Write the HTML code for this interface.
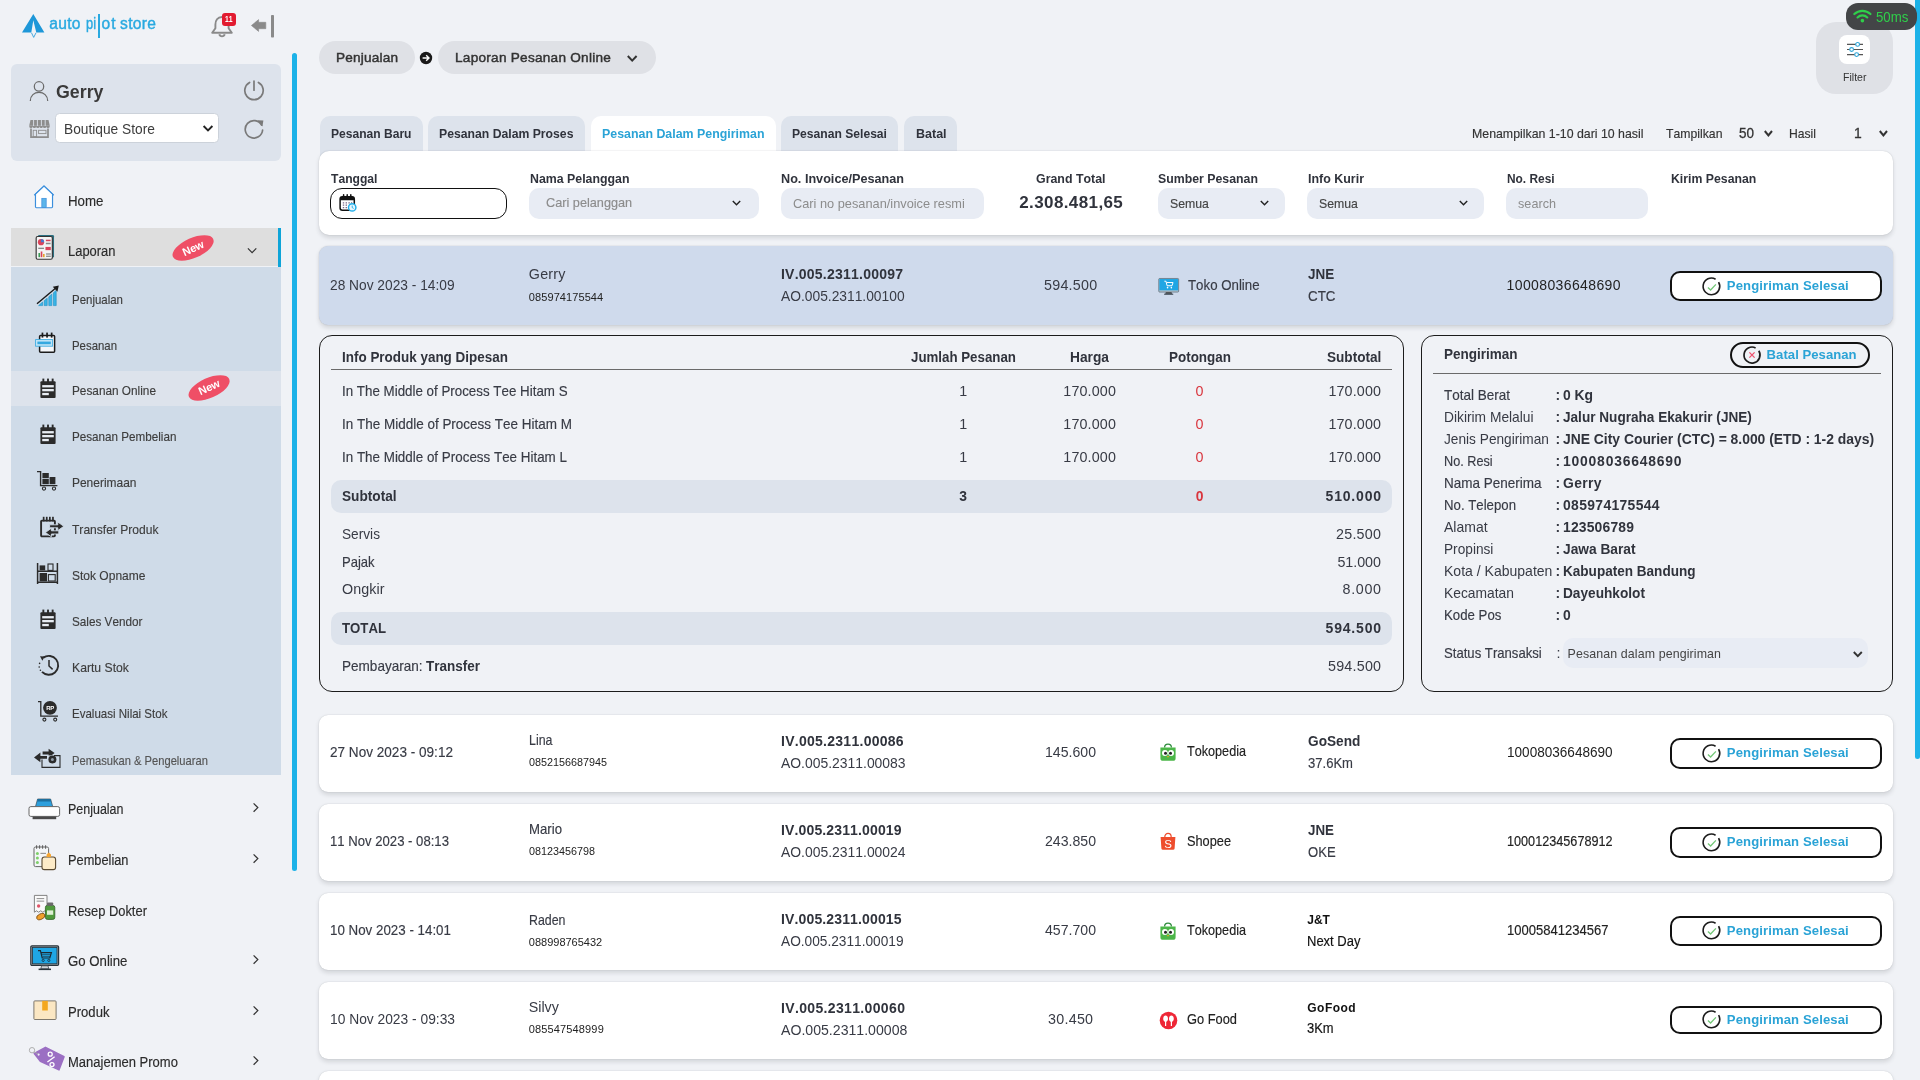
<!DOCTYPE html>
<html><head><meta charset="utf-8"><title>Laporan Pesanan Online</title>
<style>
html,body{margin:0;padding:0;}
html{width:1920px;height:1080px;overflow:hidden;background:#f0f2f6;}
body{width:1920px;height:1080px;overflow:hidden;position:relative;background:#f0f2f6;font-family:"Liberation Sans",sans-serif;font-kerning:none;font-variant-ligatures:none;}
.b{position:absolute;box-sizing:border-box;}
.t{position:absolute;white-space:nowrap;font-kerning:none;transform-origin:0 50%;}
svg{overflow:visible;}
#root{position:absolute;left:0;top:0;width:1920px;height:1080px;overflow:hidden;will-change:transform;}
</style></head><body><div id="root">
<div class="b" style="left:292.1px;top:52.5px;width:4.8px;height:818.2px;background:#1cb2e8;border-radius:3px;"></div>
<svg class="b" style="left:20px;top:12px;" width="28" height="28" viewBox="0 0 28 28"><path d="M13.3 2 L24.4 20.6 L16.3 20.6 L13.3 8.2 L11.3 20.6 L2 20.6 Z" fill="#1e97d8"/><path d="M11.5 20.8 L13.7 25.4 L16 20.8" fill="none" stroke="#1e97d8" stroke-width="0.8"/></svg>
<span class="t" style="left:49.2px;top:15px;font-size:15.6px;line-height:17px;color:#29a9e0;letter-spacing:0.31px;-webkit-text-stroke:0.42px #29a9e0;">auto</span>
<span class="t" style="left:85.6px;top:15px;font-size:15.6px;line-height:17px;color:#29a9e0;transform:scaleX(0.8236);-webkit-text-stroke:0.42px #29a9e0;">pi</span>
<div class="b" style="left:98px;top:14px;width:1.8px;height:23.5px;background:#29a9e0;"></div>
<span class="t" style="left:101.5px;top:15px;font-size:15.6px;line-height:17px;color:#29a9e0;letter-spacing:0.99px;-webkit-text-stroke:0.42px #29a9e0;">ot</span>
<span class="t" style="left:120px;top:15px;font-size:15.6px;line-height:17px;color:#29a9e0;letter-spacing:0.33px;-webkit-text-stroke:0.42px #29a9e0;">store</span>
<svg class="b" style="left:208px;top:12px;" width="30" height="28" viewBox="0 0 30 28"><path d="M14 5 c-4.6 0 -6.6 3.6 -6.6 7.6 v3.6 l-3.2 4.6 h19.6 l-3.2 -4.6 v-3.6 c0 -4 -2 -7.6 -6.6 -7.6z" fill="none" stroke="#8a8a8a" stroke-width="1.9" stroke-linejoin="round"/><path d="M11.3 22.3 a2.8 2.8 0 0 0 5.4 0" fill="none" stroke="#8a8a8a" stroke-width="1.9"/></svg>
<div class="b" style="left:222px;top:13px;width:14.2px;height:12.8px;background:#e21b30;border-radius:3px;"></div>
<span class="t" style="left:225.3px;top:14px;font-size:8.5px;line-height:10px;color:#fff;font-weight:700;transform:scaleX(0.8038);">11</span>
<svg class="b" style="left:250px;top:14px;" width="26" height="25" viewBox="0 0 26 25"><path d="M1.4 11.5 L8.6 5.6 L8.6 8.3 L15.8 8.3 L15.8 14.7 L8.6 14.7 L8.6 17.4 Z" fill="#8a8a8a" stroke="#8a8a8a" stroke-width="0.6" stroke-linejoin="round"/><rect x="21" y="1" width="3" height="22.6" rx="0.8" fill="#8a8a8a"/></svg>
<div class="b" style="left:11px;top:64px;width:270px;height:96.5px;background:#dde3ec;border-radius:6px;"></div>
<svg class="b" style="left:28px;top:78px;" width="24" height="26" viewBox="0 0 24 26"><circle cx="11" cy="8.4" r="4.7" fill="none" stroke="#6b6b6b" stroke-width="1.25"/><path d="M2.3 23 c0 -5.6 4 -8.6 8.7 -8.6 s8.7 3 8.7 8.6" fill="none" stroke="#6b6b6b" stroke-width="1.25"/></svg>
<span class="t" style="left:55.5px;top:81px;font-size:18.3px;line-height:21px;color:#3a3a3a;font-weight:700;transform:scaleX(0.9727);">Gerry</span>
<svg class="b" style="left:242px;top:77.4px;" width="24" height="24" viewBox="0 0 24 24"><path d="M7.6 5.4 a9.2 9.2 0 1 0 8.8 0" fill="none" stroke="#7a7a7a" stroke-width="1.7" stroke-linecap="round"/><path d="M12 4 V13.2" stroke="#7a7a7a" stroke-width="1.7" stroke-linecap="round"/></svg>
<svg class="b" style="left:29px;top:119px;" width="22" height="20" viewBox="0 0 22 20"><path d="M1.5 1 h18 l1.2 5.2 h-20.4z" fill="#8d8d8d"/><path d="M0.3 6.2 h20.4 v1.2 a1.7 1.7 0 0 1 -3.4 0 a1.7 1.7 0 0 1 -3.4 0 a1.7 1.7 0 0 1 -3.4 0 a1.7 1.7 0 0 1 -3.4 0 a1.7 1.7 0 0 1 -3.4 0 a1.7 1.7 0 0 1 -3.4 0z" fill="#8d8d8d"/><path d="M4.6 1 v6 M8.4 1 v6 M12.4 1 v6 M16.2 1 v6" stroke="#dde3ec" stroke-width="0.9"/><path d="M2 9.5 v8.6 h17 v-8.6" fill="none" stroke="#8d8d8d" stroke-width="1.7"/><rect x="4.2" y="11.3" width="3.4" height="6.4" fill="none" stroke="#8d8d8d" stroke-width="0.9"/><rect x="9.6" y="11.3" width="7.4" height="3.3" fill="none" stroke="#8d8d8d" stroke-width="0.9"/></svg>
<div class="b" style="left:55.3px;top:113px;width:163.6px;height:30.3px;background:#fff;border-radius:4.5px;border:1px solid #ccd2da;"></div>
<span class="t" style="left:63.8px;top:121px;font-size:14.2px;line-height:16px;color:#3c3c3c;transform:scaleX(0.9686);">Boutique Store</span>
<svg class="b" style="left:202px;top:124px;" width="12" height="9" viewBox="0 0 12 9"><path d="M1.6 2 L6 6.4 L10.4 2" fill="none" stroke="#222" stroke-width="1.9"/></svg>
<svg class="b" style="left:242px;top:117px;" width="24" height="24" viewBox="0 0 24 24"><path d="M19.6 8.2 A8.7 8.7 0 1 0 20.6 13" fill="none" stroke="#7a7a7a" stroke-width="1.7" stroke-linecap="round"/><path d="M15.6 3.2 L21.4 3.6 L20.4 9.4 Z" fill="#7a7a7a"/></svg>
<svg class="b" style="left:32px;top:184.4px;" width="24" height="25.4" viewBox="0 0 26 28"><path d="M2.2 12.4 L13 2 L23.8 12.4" fill="none" stroke="#3b8fdd" stroke-width="1.3" stroke-linejoin="round"/><path d="M3.6 11.2 V25.2 a1 1 0 0 0 1 1 H21.4 a1 1 0 0 0 1 -1 V11.2 L13 2.4Z" fill="#fff" stroke="#3b8fdd" stroke-width="1.3" stroke-linejoin="round"/><rect x="10.6" y="15.8" width="4.8" height="10" fill="#5bb5ea" stroke="#3b8fdd" stroke-width="0.8"/></svg>
<span class="t" style="left:68px;top:193px;font-size:14.7px;line-height:16px;color:#2b2b2b;transform:scaleX(0.9053);-webkit-text-stroke:0.16px #2b2b2b;">Home</span>
<div class="b" style="left:11px;top:228.3px;width:270px;height:38.2px;background:#dedede;"></div>
<div class="b" style="left:278px;top:228.3px;width:2.9px;height:38.4px;background:#0ea4d8;"></div>
<svg class="b" style="left:34.4px;top:233.8px;" width="22" height="26.6" viewBox="0 0 23 28"><rect x="4" y="1" width="17" height="24" rx="1.5" fill="#2c6f80"/><rect x="2.2" y="2.6" width="17" height="24" rx="1.5" fill="#f4f4f4" stroke="#333" stroke-width="1.2"/><circle cx="7.3" cy="8.6" r="3.3" fill="#d9445a"/><path d="M7.3 8.6 V5.3 A3.3 3.3 0 0 1 10.6 8.6Z" fill="#4a78c9"/><rect x="12.4" y="6" width="5" height="1.6" fill="#d9445a"/><rect x="12.4" y="9.2" width="5" height="1.6" fill="#888"/><rect x="4.4" y="14.4" width="6" height="1.4" fill="#888"/><rect x="12" y="13.6" width="5.6" height="3.4" fill="#d9445a"/><rect x="4.6" y="20" width="1.7" height="4.4" fill="#3a9a56"/><rect x="7" y="18.4" width="1.7" height="6" fill="#d9445a"/><rect x="9.4" y="21" width="1.7" height="3.4" fill="#e6a52c"/><rect x="12.6" y="20.4" width="5" height="1.3" fill="#888"/><rect x="12.6" y="22.8" width="5" height="1.3" fill="#888"/></svg>
<span class="t" style="left:68px;top:243px;font-size:14.7px;line-height:16px;color:#2b2b2b;transform:scaleX(0.8804);-webkit-text-stroke:0.16px #2b2b2b;">Laporan</span>
<div class="b" style="left:170.5px;top:238.2px;width:44px;height:19.6px;border-radius:50%;background:#ef4f66;transform:rotate(-24deg);"></div>
<span class="t" style="left:181.5px;top:241.8px;font-size:11px;line-height:12px;color:#fff;font-weight:700;transform-origin:50% 50%;transform:rotate(-24deg);letter-spacing:-0.2px;">New</span>
<svg class="b" style="left:247px;top:247px;" width="11" height="8" viewBox="0 0 11 8"><path d="M0.9 1.3 L5.1 5.6 L9.3 1.3" fill="none" stroke="#333" stroke-width="1.2"/></svg>
<div class="b" style="left:11px;top:266.5px;width:270px;height:508px;background:#cfdbe8;"></div>
<div class="b" style="left:11px;top:371px;width:270px;height:35.2px;background:#dde3ec;"></div>
<span class="t" style="left:72px;top:292px;font-size:13.4px;line-height:15px;color:#3d3d3d;transform:scaleX(0.8556);-webkit-text-stroke:0.16px #3d3d3d;">Penjualan</span>
<span class="t" style="left:72px;top:338px;font-size:13.4px;line-height:15px;color:#3d3d3d;transform:scaleX(0.8506);-webkit-text-stroke:0.16px #3d3d3d;">Pesanan</span>
<span class="t" style="left:72px;top:383px;font-size:13.4px;line-height:15px;color:#3d3d3d;transform:scaleX(0.8809);-webkit-text-stroke:0.16px #3d3d3d;">Pesanan Online</span>
<span class="t" style="left:72px;top:429px;font-size:13.4px;line-height:15px;color:#3d3d3d;transform:scaleX(0.8712);-webkit-text-stroke:0.16px #3d3d3d;">Pesanan Pembelian</span>
<span class="t" style="left:72px;top:475px;font-size:13.4px;line-height:15px;color:#3d3d3d;transform:scaleX(0.8926);-webkit-text-stroke:0.16px #3d3d3d;">Penerimaan</span>
<span class="t" style="left:72px;top:522px;font-size:13.4px;line-height:15px;color:#3d3d3d;transform:scaleX(0.9003);-webkit-text-stroke:0.16px #3d3d3d;">Transfer Produk</span>
<span class="t" style="left:72px;top:568px;font-size:13.4px;line-height:15px;color:#3d3d3d;transform:scaleX(0.8971);-webkit-text-stroke:0.16px #3d3d3d;">Stok Opname</span>
<span class="t" style="left:72px;top:614px;font-size:13.4px;line-height:15px;color:#3d3d3d;transform:scaleX(0.8763);-webkit-text-stroke:0.16px #3d3d3d;">Sales Vendor</span>
<span class="t" style="left:72px;top:660px;font-size:13.4px;line-height:15px;color:#3d3d3d;transform:scaleX(0.9110);-webkit-text-stroke:0.16px #3d3d3d;">Kartu Stok</span>
<span class="t" style="left:72px;top:706px;font-size:13.4px;line-height:15px;color:#3d3d3d;transform:scaleX(0.8606);-webkit-text-stroke:0.16px #3d3d3d;">Evaluasi Nilai Stok</span>
<span class="t" style="left:72px;top:753px;font-size:13.4px;line-height:15px;color:#555;transform:scaleX(0.8336);-webkit-text-stroke:0.16px #555;">Pemasukan &amp; Pengeluaran</span>
<div class="b" style="left:186.5px;top:377.8px;width:44px;height:19.6px;border-radius:50%;background:#ef4f66;transform:rotate(-24deg);"></div>
<span class="t" style="left:197.5px;top:381.4px;font-size:11px;line-height:12px;color:#fff;font-weight:700;transform-origin:50% 50%;transform:rotate(-24deg);letter-spacing:-0.2px;">New</span>
<svg class="b" style="left:36px;top:285px;" width="24" height="22" viewBox="0 0 24 22"><path d="M2.6 20.6 L6.6 17 V20.6Z" fill="#38b4e6" stroke="#1d8ec4" stroke-width="0.6"/><path d="M8.2 20.6 V15.8 L11.2 13.2 V20.6Z" fill="#38b4e6" stroke="#1d8ec4" stroke-width="0.6"/><path d="M12.8 20.6 V11.8 L15.8 9.2 V20.6Z" fill="#38b4e6" stroke="#1d8ec4" stroke-width="0.6"/><path d="M17.4 20.6 V7.8 L20.2 5.4 V20.6Z" fill="#38b4e6" stroke="#1d8ec4" stroke-width="0.6"/><path d="M1 18.8 L19.8 3" stroke="#1b1b1b" stroke-width="1.4"/><path d="M22.8 0.6 L16.8 1.8 L21.4 6.8Z" fill="#1b1b1b"/></svg>
<svg class="b" style="left:35px;top:332px;" width="22" height="22" viewBox="0 0 22 22"><rect x="4.6" y="3.6" width="15" height="16.6" rx="1" fill="#f5f7fa" stroke="#1b1b1b" stroke-width="1.5"/><rect x="6.6" y="0.6" width="1.7" height="5" fill="#1b1b1b"/><rect x="11.2" y="0.6" width="1.7" height="5" fill="#1b1b1b"/><rect x="15.8" y="0.6" width="1.7" height="5" fill="#1b1b1b"/><rect x="0.6" y="7.6" width="17" height="6.6" fill="#bfe4f7" stroke="#35a9e0" stroke-width="0.8"/><rect x="2.4" y="9.6" width="13.4" height="2.6" fill="#35a9e0"/></svg>
<svg class="b" style="left:40px;top:378px;" width="16" height="20.4" viewBox="0 0 16 20"><rect x="0.4" y="3" width="15.2" height="16.7" rx="1" fill="#2b2b2b"/><rect x="2.4" y="0.4" width="1.9" height="4.6" fill="#2b2b2b"/><rect x="7.05" y="0.4" width="1.9" height="4.6" fill="#2b2b2b"/><rect x="11.7" y="0.4" width="1.9" height="4.6" fill="#2b2b2b"/><rect x="2.2" y="6.9" width="11.6" height="2.3" fill="#e8edf3"/><rect x="2.2" y="10.8" width="11.6" height="2.3" fill="#e8edf3"/><rect x="2.2" y="14.7" width="6.6" height="2.3" fill="#e8edf3"/></svg>
<svg class="b" style="left:40px;top:424px;" width="16" height="20.4" viewBox="0 0 16 20"><rect x="0.4" y="3" width="15.2" height="16.7" rx="1" fill="#2b2b2b"/><rect x="2.4" y="0.4" width="1.9" height="4.6" fill="#2b2b2b"/><rect x="7.05" y="0.4" width="1.9" height="4.6" fill="#2b2b2b"/><rect x="11.7" y="0.4" width="1.9" height="4.6" fill="#2b2b2b"/><rect x="2.2" y="6.9" width="11.6" height="2.3" fill="#e8edf3"/><rect x="2.2" y="10.8" width="11.6" height="2.3" fill="#e8edf3"/><rect x="2.2" y="14.7" width="6.6" height="2.3" fill="#e8edf3"/></svg>
<svg class="b" style="left:35.8px;top:470px;" width="24" height="22" viewBox="0 0 24 22"><path d="M1 1.6 H4.6 V15.6 H21.4" fill="none" stroke="#2b2b2b" stroke-width="1.4"/><rect x="6.4" y="3" width="6.4" height="5.2" fill="#2b2b2b"/><rect x="6.4" y="9" width="6.4" height="5.2" fill="#2b2b2b"/><rect x="13.6" y="7" width="5.8" height="7.2" fill="#2b2b2b"/><circle cx="8" cy="18.6" r="1.6" fill="none" stroke="#2b2b2b" stroke-width="1.1"/><circle cx="18" cy="18.6" r="1.6" fill="none" stroke="#2b2b2b" stroke-width="1.1"/></svg>
<svg class="b" style="left:39px;top:516px;" width="26" height="23" viewBox="0 0 26 23"><rect x="2.1" y="4.6" width="13.8" height="15.8" rx="0.8" fill="none" stroke="#2b2b2b" stroke-width="1.9"/><rect x="3.8" y="0.8" width="1.7" height="4.6" fill="#2b2b2b"/><rect x="6.9" y="0.8" width="1.7" height="4.6" fill="#2b2b2b"/><rect x="10" y="0.8" width="1.7" height="4.6" fill="#2b2b2b"/><rect x="13.1" y="0.8" width="1.7" height="4.6" fill="#2b2b2b"/><path d="M10.6 8.8 H18.8 V6 L24.8 10.3 L18.8 14.6 V11.8 H10.6Z" fill="#2b2b2b" stroke="#cfdbe8" stroke-width="0.9"/><path d="M19.8 14.8 H12.4 V12.2 L6.4 16.5 L12.4 20.8 V18 H19.8Z" fill="#2b2b2b" stroke="#cfdbe8" stroke-width="0.9"/></svg>
<svg class="b" style="left:36px;top:562px;" width="23" height="23" viewBox="0 0 23 23"><path d="M1.6 1 V22 M21.4 1 V22" stroke="#2b2b2b" stroke-width="1.5"/><path d="M1.6 9.2 H21.4 M1.6 20.2 H21.4" stroke="#2b2b2b" stroke-width="1.5"/><rect x="3.6" y="3.4" width="5.6" height="5" fill="#2b2b2b"/><rect x="12" y="2" width="5" height="6.4" fill="none" stroke="#2b2b2b" stroke-width="1.1"/><rect x="3.6" y="11" width="7.4" height="8.4" fill="#2b2b2b"/><rect x="12.4" y="12.6" width="6.8" height="6.4" fill="none" stroke="#2b2b2b" stroke-width="1.1"/></svg>
<svg class="b" style="left:40px;top:608.5px;" width="16" height="20.4" viewBox="0 0 16 20"><rect x="0.4" y="3" width="15.2" height="16.7" rx="1" fill="#2b2b2b"/><rect x="2.4" y="0.4" width="1.9" height="4.6" fill="#2b2b2b"/><rect x="7.05" y="0.4" width="1.9" height="4.6" fill="#2b2b2b"/><rect x="11.7" y="0.4" width="1.9" height="4.6" fill="#2b2b2b"/><rect x="2.2" y="6.9" width="11.6" height="2.3" fill="#e8edf3"/><rect x="2.2" y="10.8" width="11.6" height="2.3" fill="#e8edf3"/><rect x="2.2" y="14.7" width="6.6" height="2.3" fill="#e8edf3"/></svg>
<svg class="b" style="left:37px;top:654px;" width="23" height="23" viewBox="0 0 23 23"><path d="M6.4 3.6 A9.4 9.4 0 1 1 5 17.8" fill="none" stroke="#2b2b2b" stroke-width="1.9"/><path d="M12 6 V12 L15.6 15.4" fill="none" stroke="#2b2b2b" stroke-width="1.5"/><path d="M3 2.2 L7.6 2.6 L5.4 6.8Z" fill="#2b2b2b"/><circle cx="2.6" cy="9.4" r="0.8" fill="#2b2b2b"/><circle cx="2.2" cy="13" r="0.8" fill="#2b2b2b"/><circle cx="3.4" cy="16.2" r="0.8" fill="#2b2b2b"/></svg>
<svg class="b" style="left:37px;top:700px;" width="23" height="23" viewBox="0 0 23 23"><path d="M1 1.6 H3.8 V16.2 H21" fill="none" stroke="#2b2b2b" stroke-width="1.3"/><circle cx="13" cy="7.8" r="6.9" fill="#2b2b2b"/><circle cx="7.4" cy="19.6" r="1.5" fill="none" stroke="#2b2b2b" stroke-width="1.1"/><circle cx="18.2" cy="19.6" r="1.5" fill="none" stroke="#2b2b2b" stroke-width="1.1"/><text x="13" y="10" font-size="6" font-weight="700" fill="#fff" text-anchor="middle" font-family="Liberation Sans" letter-spacing="-0.3">RP</text></svg>
<svg class="b" style="left:33px;top:747px;" width="28" height="22" viewBox="0 0 28 22"><path d="M7.4 9 L7.4 5.6 L1 10.4 L7.4 15.2 L7.4 11.8 L14 11.8 L14 9Z" fill="#2b2b2b"/><path d="M9.6 4.6 H15.6 V1.8 L21.6 6 L18.6 8.2 L15.6 8.6 V7.4 H9.6Z" fill="#2b2b2b"/><path d="M9 12.6 V20.4 H27 V8.6 H21" fill="none" stroke="#2b2b2b" stroke-width="1.1"/><circle cx="19.4" cy="12.4" r="4" fill="#2b2b2b"/><circle cx="19.4" cy="12.4" r="1.5" fill="#8f9aa6"/></svg>
<span class="t" style="left:68px;top:801px;font-size:14.7px;line-height:16px;color:#2b2b2b;transform:scaleX(0.8487);-webkit-text-stroke:0.16px #2b2b2b;">Penjualan</span>
<svg class="b" style="left:251.6px;top:802.4px;" width="8" height="12" viewBox="0 0 8 12"><path d="M1.6 1.4 L5.8 5.6 L1.6 9.8" fill="none" stroke="#333" stroke-width="1.25"/></svg>
<span class="t" style="left:68px;top:852px;font-size:14.7px;line-height:16px;color:#2b2b2b;transform:scaleX(0.8710);-webkit-text-stroke:0.16px #2b2b2b;">Pembelian</span>
<svg class="b" style="left:251.6px;top:853.4px;" width="8" height="12" viewBox="0 0 8 12"><path d="M1.6 1.4 L5.8 5.6 L1.6 9.8" fill="none" stroke="#333" stroke-width="1.25"/></svg>
<span class="t" style="left:68px;top:903px;font-size:14.7px;line-height:16px;color:#2b2b2b;transform:scaleX(0.8790);-webkit-text-stroke:0.16px #2b2b2b;">Resep Dokter</span>
<span class="t" style="left:68px;top:953px;font-size:14.7px;line-height:16px;color:#2b2b2b;transform:scaleX(0.8990);-webkit-text-stroke:0.16px #2b2b2b;">Go Online</span>
<svg class="b" style="left:251.6px;top:954.4px;" width="8" height="12" viewBox="0 0 8 12"><path d="M1.6 1.4 L5.8 5.6 L1.6 9.8" fill="none" stroke="#333" stroke-width="1.25"/></svg>
<span class="t" style="left:68px;top:1004px;font-size:14.7px;line-height:16px;color:#2b2b2b;transform:scaleX(0.8910);-webkit-text-stroke:0.16px #2b2b2b;">Produk</span>
<svg class="b" style="left:251.6px;top:1005.4px;" width="8" height="12" viewBox="0 0 8 12"><path d="M1.6 1.4 L5.8 5.6 L1.6 9.8" fill="none" stroke="#333" stroke-width="1.25"/></svg>
<span class="t" style="left:68px;top:1054px;font-size:14.7px;line-height:16px;color:#2b2b2b;transform:scaleX(0.8857);-webkit-text-stroke:0.16px #2b2b2b;">Manajemen Promo</span>
<svg class="b" style="left:251.6px;top:1055.4px;" width="8" height="12" viewBox="0 0 8 12"><path d="M1.6 1.4 L5.8 5.6 L1.6 9.8" fill="none" stroke="#333" stroke-width="1.25"/></svg>
<svg class="b" style="left:28px;top:797px;" width="33" height="26" viewBox="0 0 33 26"><path d="M9.6 2 h13 l2.4 8.6 h-17.8z" fill="#2d9fdc" stroke="#3b4a55" stroke-width="0.7"/><path d="M9.8 2 h12.6 l0.7 2.4 h-14z" fill="#1d6f9e"/><rect x="1" y="9.6" width="30.6" height="9.8" rx="1.8" fill="#fdfdfd" stroke="#666" stroke-width="1"/><path d="M4.6 19.6 h23.6 v2.6 h-23.6z" fill="#4a4a4a"/></svg>
<svg class="b" style="left:32px;top:844px;" width="27" height="28" viewBox="0 0 27 28"><rect x="2" y="3" width="14.6" height="19.6" rx="1.5" fill="#f4f6f8" stroke="#666" stroke-width="1"/><path d="M4.6 1.2 v3.6 M7.6 1.2 v3.6 M10.6 1.2 v3.6 M13.6 1.2 v3.6" stroke="#555" stroke-width="0.9"/><circle cx="5.4" cy="9.4" r="1.5" fill="#7ed06a"/><circle cx="5.4" cy="14" r="1.5" fill="#7ed06a"/><circle cx="5.4" cy="18.6" r="1.5" fill="#7ed06a"/><rect x="8.4" y="8.8" width="5.6" height="1.2" fill="#999"/><rect x="10" y="13" width="13.6" height="12.6" rx="2.4" fill="#fdebc8" stroke="#5a4a32" stroke-width="1.1"/><path d="M14.6 13 v-2.6 l2.2 -2 l2.2 2 v2.6z" fill="#f7a531"/></svg>
<svg class="b" style="left:32px;top:894px;" width="26" height="28" viewBox="0 0 26 28"><path d="M2.4 1.4 h12.6 v16.8 l-2.1 -1.4 l-2.1 1.4 l-2.1 -1.4 l-2.1 1.4 l-2.1 -1.4 l-2.1 1.4z" fill="#fafafa" stroke="#777" stroke-width="0.9"/><rect x="4.6" y="4" width="7.6" height="1.1" fill="#999"/><rect x="4.6" y="6.6" width="7.6" height="1.1" fill="#999"/><circle cx="6.6" cy="12" r="1.7" fill="#e0566a"/><rect x="13.4" y="11.4" width="9.4" height="14" rx="2" fill="#4f9a3c" stroke="#2f5f25" stroke-width="0.8"/><rect x="15" y="8.4" width="6.2" height="3.4" rx="0.8" fill="#6a6a6a"/><rect x="15" y="16.4" width="6.2" height="4.4" fill="#dff0d6"/><ellipse cx="8.8" cy="22.6" rx="4.4" ry="2.7" fill="#f0a02c" stroke="#7a4a10" stroke-width="0.8" transform="rotate(-25 8.8 22.6)"/></svg>
<svg class="b" style="left:29.8px;top:944.8px;" width="30" height="26" viewBox="0 0 30 26"><rect x="0.8" y="0.8" width="27.8" height="19.6" rx="1.2" fill="#9aa4aa" stroke="#2a343b" stroke-width="1.2"/><rect x="2.4" y="2.4" width="24.6" height="16.4" fill="#1fa6e4" stroke="#2a343b" stroke-width="0.8"/><path d="M11.6 20.8 h6.4 l0.8 3 h-8z" fill="#cfd4d8" stroke="#2a343b" stroke-width="0.7"/><rect x="8.6" y="23.6" width="12.4" height="1.5" fill="#2a343b"/><path d="M8 5.6 h2.4 l1.8 7.4 h7.6 l1.6 -5.4 h-10" fill="none" stroke="#1c2a33" stroke-width="1.2"/><path d="M12 9.6 h8.6 M12.6 11.4 h7.6" stroke="#1c2a33" stroke-width="0.6"/><circle cx="13.2" cy="15.4" r="1.1" fill="none" stroke="#1c2a33" stroke-width="0.8"/><circle cx="18.8" cy="15.4" r="1.1" fill="none" stroke="#1c2a33" stroke-width="0.8"/></svg>
<svg class="b" style="left:32.6px;top:1000px;" width="25" height="22" viewBox="0 0 25 22"><rect x="0.9" y="0.9" width="22.2" height="18.6" rx="0.9" fill="#fbe7c3" stroke="#6f6a60" stroke-width="0.9"/><rect x="9.2" y="0.9" width="5.6" height="9.6" fill="#f3a71f"/></svg>
<svg class="b" style="left:27px;top:1044px;" width="40" height="30" viewBox="0 0 40 30"><path d="M18.5 3.4 L37 12.8 L32 25.8 L13.4 17.2 L7.3 9.4Z" fill="#9b6fc3" stroke="#9b6fc3" stroke-width="1.6" stroke-linejoin="round"/><circle cx="11.6" cy="10.6" r="1.1" fill="#f0f2f6"/><circle cx="5" cy="6.2" r="2.7" fill="none" stroke="#a8a8a8" stroke-width="0.9"/><path d="M7.2 7.8 L11 10.2" stroke="#a8a8a8" stroke-width="0.9"/><circle cx="23.2" cy="10.2" r="2" fill="none" stroke="#fff" stroke-width="1.3"/><circle cx="25" cy="20.6" r="2" fill="none" stroke="#fff" stroke-width="1.3"/><path d="M27.6 12.8 L20.4 18" stroke="#fff" stroke-width="1.4"/></svg>
<div class="b" style="left:1914.8px;top:0px;width:5.2px;height:759px;background:#1cb2e8;border-radius:0 0 3px 3px;"></div>
<div class="b" style="left:319px;top:41.2px;width:95.5px;height:32.6px;background:#dfe1e6;border-radius:17px;"></div>
<span class="t" style="left:336px;top:50px;font-size:13.6px;line-height:15px;color:#333;letter-spacing:0.19px;-webkit-text-stroke:0.45px #333;">Penjualan</span>
<svg class="b" style="left:419px;top:51px;" width="14" height="14" viewBox="0 0 14 14"><circle cx="7" cy="7" r="6.2" fill="#1a1a1a"/><path d="M3.6 7 H9.6 M7.2 4.2 L10 7 L7.2 9.8" fill="none" stroke="#fff" stroke-width="1.4"/></svg>
<div class="b" style="left:438px;top:41.2px;width:217.5px;height:32.6px;background:#dfe1e6;border-radius:17px;"></div>
<span class="t" style="left:455px;top:50px;font-size:13.6px;line-height:15px;color:#333;letter-spacing:0.26px;-webkit-text-stroke:0.45px #333;">Laporan Pesanan Online</span>
<svg class="b" style="left:626.5px;top:55.2px;" width="10.4" height="7.6" viewBox="0 0 10.4 7.6"><path d="M0.8 1 L5.2 5.6 L9.6 1" fill="none" stroke="#333" stroke-width="2"/></svg>
<div class="b" style="left:1816px;top:22px;width:77px;height:72px;background:#dfe1e6;border-radius:20px;"></div>
<div class="b" style="left:1839.3px;top:34.6px;width:30.6px;height:29.6px;background:#fff;border-radius:8px;"></div>
<svg class="b" style="left:1846px;top:41px;" width="18" height="17" viewBox="0 0 18 17"><path d="M1 3.4 H17 M1 8.5 H17 M1 13.6 H17" stroke="#555" stroke-width="1.1"/><circle cx="11.6" cy="3.4" r="1.9" fill="#fff" stroke="#2aa3d6" stroke-width="1.1"/><circle cx="5.6" cy="8.5" r="1.9" fill="#fff" stroke="#2aa3d6" stroke-width="1.1"/><circle cx="10.6" cy="13.6" r="1.9" fill="#fff" stroke="#2aa3d6" stroke-width="1.1"/></svg>
<span class="t" style="left:1842.55px;top:71px;font-size:11.6px;line-height:12px;color:#333;transform:scaleX(0.9116);">Filter</span>
<div class="b" style="left:1846.2px;top:3.2px;width:70.5px;height:26.6px;background:#434547;border-radius:12px;"></div>
<svg class="b" style="left:1852.6px;top:9.2px;" width="18.8" height="14.1" viewBox="0 0 20 15"><path d="M1.4 5.4 A12.4 12.4 0 0 1 18.6 5.4" fill="none" stroke="#2fcf4a" stroke-width="2.3" stroke-linecap="round"/><path d="M4.8 9 A7.4 7.4 0 0 1 15.2 9" fill="none" stroke="#2fcf4a" stroke-width="2.3" stroke-linecap="round"/><circle cx="10" cy="12.4" r="1.9" fill="#2fcf4a"/></svg>
<span class="t" style="left:1876.2px;top:9px;font-size:13.9px;line-height:16px;color:#2fcf4a;transform:scaleX(0.9532);">50ms</span>
<span class="t" style="left:1471.6px;top:126px;font-size:13.2px;line-height:15px;color:#333;transform:scaleX(0.9355);-webkit-text-stroke:0.16px #333;">Menampilkan 1-10 dari 10 hasil</span>
<span class="t" style="left:1666px;top:126px;font-size:13.2px;line-height:15px;color:#333;transform:scaleX(0.9279);-webkit-text-stroke:0.16px #333;">Tampilkan</span>
<span class="t" style="left:1738.6px;top:125px;font-size:13.9px;line-height:16px;color:#333;transform:scaleX(0.9701);-webkit-text-stroke:0.3px #333;">50</span>
<svg class="b" style="left:1763.6px;top:129.8px;" width="8.8" height="7.4" viewBox="0 0 8.8 7.4"><path d="M0.8 1 L4.4 5.4 L8 1" fill="none" stroke="#333" stroke-width="2"/></svg>
<span class="t" style="left:1789px;top:126px;font-size:13.2px;line-height:15px;color:#333;transform:scaleX(0.9202);-webkit-text-stroke:0.16px #333;">Hasil</span>
<span class="t" style="left:1854px;top:125px;font-size:13.9px;line-height:16px;color:#333;-webkit-text-stroke:0.3px #333;">1</span>
<svg class="b" style="left:1878.6px;top:129.8px;" width="8.8" height="7.4" viewBox="0 0 8.8 7.4"><path d="M0.8 1 L4.4 5.4 L8 1" fill="none" stroke="#333" stroke-width="2"/></svg>
<div class="b" style="left:319.5px;top:116.2px;width:103px;height:40px;background:#dde3ec;border-radius:10px 10px 0 0;"></div>
<span class="t" style="left:330.75px;top:126px;font-size:12.8px;line-height:15px;color:#30333c;font-weight:700;transform:scaleX(0.9429);">Pesanan Baru</span>
<div class="b" style="left:428px;top:116.2px;width:157px;height:40px;background:#dde3ec;border-radius:10px 10px 0 0;"></div>
<span class="t" style="left:439.25px;top:126px;font-size:12.8px;line-height:15px;color:#30333c;font-weight:700;transform:scaleX(0.9547);">Pesanan Dalam Proses</span>
<div class="b" style="left:590.8px;top:116.2px;width:185.4px;height:40px;background:#fff;border-radius:10px 10px 0 0;"></div>
<span class="t" style="left:602.25px;top:126px;font-size:12.8px;line-height:15px;color:#2aa3d6;font-weight:700;transform:scaleX(0.9679);">Pesanan Dalam Pengiriman</span>
<div class="b" style="left:781.3px;top:116.2px;width:117px;height:40px;background:#dde3ec;border-radius:10px 10px 0 0;"></div>
<span class="t" style="left:792.3px;top:126px;font-size:12.8px;line-height:15px;color:#30333c;font-weight:700;transform:scaleX(0.9468);">Pesanan Selesai</span>
<div class="b" style="left:904.3px;top:116.2px;width:53px;height:40px;background:#dde3ec;border-radius:10px 10px 0 0;"></div>
<span class="t" style="left:915.5px;top:126px;font-size:12.8px;line-height:15px;color:#30333c;font-weight:700;transform:scaleX(0.9776);">Batal</span>
<div class="b" style="left:319.4px;top:151.2px;width:1573.6px;height:84px;background:#fff;border-radius:10px;box-shadow:0 2.5px 4px rgba(40,50,60,0.14),0 0 1.2px rgba(40,50,60,0.22);"></div>
<span class="t" style="left:330.5px;top:171px;font-size:12.8px;line-height:15px;color:#30333c;font-weight:700;transform:scaleX(0.9476);">Tanggal</span>
<span class="t" style="left:529.5px;top:171px;font-size:12.8px;line-height:15px;color:#30333c;font-weight:700;transform:scaleX(0.9647);">Nama Pelanggan</span>
<span class="t" style="left:781.3px;top:171px;font-size:12.8px;line-height:15px;color:#30333c;font-weight:700;transform:scaleX(0.9880);">No. Invoice/Pesanan</span>
<span class="t" style="left:1158px;top:171px;font-size:12.8px;line-height:15px;color:#30333c;font-weight:700;transform:scaleX(0.9628);">Sumber Pesanan</span>
<span class="t" style="left:1308px;top:171px;font-size:12.8px;line-height:15px;color:#30333c;font-weight:700;transform:scaleX(0.9723);">Info Kurir</span>
<span class="t" style="left:1506.6px;top:171px;font-size:12.8px;line-height:15px;color:#30333c;font-weight:700;transform:scaleX(0.9295);">No. Resi</span>
<span class="t" style="left:1670.7px;top:171px;font-size:12.8px;line-height:15px;color:#30333c;font-weight:700;transform:scaleX(0.9592);">Kirim Pesanan</span>
<span class="t" style="left:1036.25px;top:171px;font-size:12.8px;line-height:15px;color:#30333c;font-weight:700;transform:scaleX(0.9676);">Grand Total</span>
<span class="t" style="left:1019.25px;top:193px;font-size:17px;line-height:19px;color:#30333c;font-weight:700;letter-spacing:0.39px;">2.308.481,65</span>
<div class="b" style="left:330.3px;top:188.1px;width:176.7px;height:30.8px;background:#fff;border-radius:12px;border:1.6px solid #111;"></div>
<svg class="b" style="left:338.6px;top:194.4px;" width="18" height="18" viewBox="0 0 18 18"><rect x="1.1" y="2.8" width="14.2" height="13.4" rx="2.2" fill="#fff" stroke="#111" stroke-width="1.5"/><path d="M1.1 5.2 a2.2 2.2 0 0 1 2.2 -2.4 h9.8 a2.2 2.2 0 0 1 2.2 2.4 v1 h-14.2z" fill="#111"/><path d="M4.6 0.8 V3.4 M8.2 0.8 V3.4 M11.8 0.8 V3.4" stroke="#111" stroke-width="1.5" stroke-linecap="round"/><path d="M3.8 8.8 h1.4 M6.6 8.8 h1.4 M9.4 8.8 h1.4 M12 8.8 h1.2 M3.8 11.2 h1.4 M6.6 11.2 h1.4 M3.8 13.6 h1.4 M6.6 13.6 h1.4" stroke="#7a6a8a" stroke-width="1.2"/><circle cx="13.2" cy="13.4" r="3.7" fill="#e9f7fd" stroke="#27b0ea" stroke-width="1.5"/><path d="M13.2 11.6 V13.6 L14.6 14.4" fill="none" stroke="#27b0ea" stroke-width="1"/></svg>
<div class="b" style="left:529px;top:188.2px;width:230px;height:30.6px;background:#e8ecf4;border-radius:10px;"></div>
<span class="t" style="left:545.5px;top:195px;font-size:13.6px;line-height:15px;color:#8c8c8c;transform:scaleX(0.9344);-webkit-text-stroke:0.16px #8c8c8c;">Cari pelanggan</span>
<svg class="b" style="left:732.4px;top:199.8px;" width="9" height="6.8" viewBox="0 0 9 6.8"><path d="M0.8 1 L4.5 4.8 L8.2 1" fill="none" stroke="#222" stroke-width="1.4"/></svg>
<div class="b" style="left:781px;top:188.2px;width:203px;height:30.6px;background:#e8ecf4;border-radius:10px;"></div>
<span class="t" style="left:793px;top:196px;font-size:13.2px;line-height:15px;color:#8c8c8c;transform:scaleX(0.9687);">Cari no pesanan/invoice resmi</span>
<div class="b" style="left:1158px;top:188.2px;width:126.6px;height:30.6px;background:#e8ecf4;border-radius:10px;"></div>
<span class="t" style="left:1170px;top:196px;font-size:13.2px;line-height:15px;color:#444;transform:scaleX(0.9324);-webkit-text-stroke:0.16px #444;">Semua</span>
<svg class="b" style="left:1260px;top:200.2px;" width="9" height="6.8" viewBox="0 0 9 6.8"><path d="M0.8 1 L4.5 4.8 L8.2 1" fill="none" stroke="#222" stroke-width="1.4"/></svg>
<div class="b" style="left:1307.2px;top:188.2px;width:176.6px;height:30.6px;background:#e8ecf4;border-radius:10px;"></div>
<span class="t" style="left:1319.4px;top:196px;font-size:13.2px;line-height:15px;color:#444;transform:scaleX(0.9324);-webkit-text-stroke:0.16px #444;">Semua</span>
<svg class="b" style="left:1458.6px;top:200.2px;" width="9" height="6.8" viewBox="0 0 9 6.8"><path d="M0.8 1 L4.5 4.8 L8.2 1" fill="none" stroke="#222" stroke-width="1.4"/></svg>
<div class="b" style="left:1505.8px;top:188.2px;width:142.4px;height:30.6px;background:#e8ecf4;border-radius:10px;"></div>
<span class="t" style="left:1518px;top:197px;font-size:12.6px;line-height:14px;color:#8c8c8c;letter-spacing:0.04px;">search</span>
<div class="b" style="left:319.3px;top:246.2px;width:1573.7px;height:79px;background:#cfdaec;border-radius:9px;box-shadow:0 2.5px 4px rgba(40,50,60,0.14),0 0 1.2px rgba(40,50,60,0.22);"></div>
<span class="t" style="left:330px;top:277px;font-size:14.3px;line-height:16px;color:#383b45;transform:scaleX(0.9615);">28 Nov 2023 - 14:09</span>
<span class="t" style="left:528.8px;top:266px;font-size:14.3px;line-height:16px;color:#383b45;letter-spacing:0.21px;">Gerry</span>
<span class="t" style="left:528.8px;top:291px;font-size:11px;line-height:12px;color:#222;letter-spacing:0.09px;">085974175544</span>
<span class="t" style="left:781px;top:266px;font-size:14px;line-height:16px;color:#30333c;font-weight:700;letter-spacing:0.23px;">IV.005.2311.00097</span>
<span class="t" style="left:781px;top:288px;font-size:14.3px;line-height:16px;color:#383b45;transform:scaleX(0.9655);">AO.005.2311.00100</span>
<span class="t" style="left:1044.1px;top:277px;font-size:14.3px;line-height:16px;color:#383b45;letter-spacing:0.22px;">594.500</span>
<svg class="b" style="left:1158px;top:278px;" width="21.4" height="17" viewBox="0 0 22 18"><rect x="0.5" y="0.5" width="21" height="14.4" rx="0.9" fill="#b9c3ca" stroke="#4a6070" stroke-width="0.7"/><rect x="1.1" y="1.1" width="19.8" height="12" fill="#1fa6e4"/><path d="M8 15 h6 l0.7 1.8 h-7.4z" fill="#3a3a3a"/><rect x="6.2" y="16.6" width="9.6" height="1.1" fill="#2d3a44"/><path d="M6.4 3.4 h1.7 l1.2 4.8 h5.2 l1.1 -3.4 h-6.8" fill="none" stroke="#fff" stroke-width="1.05"/><circle cx="9.8" cy="10.2" r="0.85" fill="#fff"/><circle cx="13.8" cy="10.2" r="0.85" fill="#fff"/></svg>
<span class="t" style="left:1188px;top:277px;font-size:14.3px;line-height:16px;color:#383b45;transform:scaleX(0.9286);-webkit-text-stroke:0.16px #383b45;">Toko Online</span>
<span class="t" style="left:1307.5px;top:266px;font-size:13.9px;line-height:16px;color:#30333c;font-weight:700;transform:scaleX(0.9689);">JNE</span>
<span class="t" style="left:1307.5px;top:288px;font-size:14.3px;line-height:16px;color:#383b45;transform:scaleX(0.9357);-webkit-text-stroke:0.16px #383b45;">CTC</span>
<span class="t" style="left:1506.6px;top:277px;font-size:14px;line-height:16px;color:#222;letter-spacing:0.38px;">10008036648690</span>
<div class="b" style="left:1670.3px;top:271px;width:211.7px;height:30.4px;background:#fff;border-radius:10px;border:2px solid #111;"></div>
<svg class="b" style="left:1702.4px;top:276.6px;" width="20" height="20" viewBox="0 0 20 20"><path d="M13.6 2.2 A8.3 8.3 0 1 0 16.6 5.2" fill="none" stroke="#1c1c1c" stroke-width="1.6"/><path d="M5.9 10.6 L8.6 13 L13.9 7.4" fill="none" stroke="#74c878" stroke-width="1.3"/></svg>
<span class="t" style="left:1726.8px;top:278px;font-size:13.1px;line-height:15px;color:#2aa3d6;font-weight:700;letter-spacing:0.11px;">Pengiriman Selesai</span>
<div class="b" style="left:319px;top:334.6px;width:1084.6px;height:357px;border-radius:13px;border:1.6px solid #1c1c1c;"></div>
<div class="b" style="left:1421.2px;top:334.6px;width:472px;height:357px;border-radius:13px;border:1.6px solid #1c1c1c;"></div>
<span class="t" style="left:342px;top:349px;font-size:13.9px;line-height:16px;color:#30333c;font-weight:700;transform:scaleX(0.9682);">Info Produk yang Dipesan</span>
<span class="t" style="left:911px;top:349px;font-size:13.9px;line-height:16px;color:#30333c;font-weight:700;transform:scaleX(0.9571);">Jumlah Pesanan</span>
<span class="t" style="left:1070.1px;top:349px;font-size:13.9px;line-height:16px;color:#30333c;font-weight:700;transform:scaleX(0.9898);">Harga</span>
<span class="t" style="left:1169px;top:349px;font-size:13.9px;line-height:16px;color:#30333c;font-weight:700;transform:scaleX(0.9674);">Potongan</span>
<span class="t" style="left:1326.6px;top:349px;font-size:13.9px;line-height:16px;color:#30333c;font-weight:700;transform:scaleX(0.9785);">Subtotal</span>
<div class="b" style="left:331px;top:369.2px;width:1061px;height:1px;background:#6a6a6a;"></div>
<span class="t" style="left:342px;top:383px;font-size:14.3px;line-height:16px;color:#383b45;transform:scaleX(0.9337);-webkit-text-stroke:0.16px #383b45;">In The Middle of Process Tee Hitam S</span>
<span class="t" style="left:959.22px;top:383px;font-size:14.3px;line-height:16px;color:#383b45;">1</span>
<span class="t" style="left:1063.3px;top:383px;font-size:14.3px;line-height:16px;color:#383b45;letter-spacing:0.15px;">170.000</span>
<span class="t" style="left:1195.62px;top:383px;font-size:14.3px;line-height:16px;color:#d9363e;">0</span>
<span class="t" style="left:1328.4px;top:383px;font-size:14.3px;line-height:16px;color:#383b45;letter-spacing:0.15px;">170.000</span>
<span class="t" style="left:342px;top:416px;font-size:14.3px;line-height:16px;color:#383b45;transform:scaleX(0.9427);-webkit-text-stroke:0.16px #383b45;">In The Middle of Process Tee Hitam M</span>
<span class="t" style="left:959.22px;top:416px;font-size:14.3px;line-height:16px;color:#383b45;">1</span>
<span class="t" style="left:1063.3px;top:416px;font-size:14.3px;line-height:16px;color:#383b45;letter-spacing:0.15px;">170.000</span>
<span class="t" style="left:1195.62px;top:416px;font-size:14.3px;line-height:16px;color:#d9363e;">0</span>
<span class="t" style="left:1328.4px;top:416px;font-size:14.3px;line-height:16px;color:#383b45;letter-spacing:0.15px;">170.000</span>
<span class="t" style="left:342px;top:449px;font-size:14.3px;line-height:16px;color:#383b45;transform:scaleX(0.9374);-webkit-text-stroke:0.16px #383b45;">In The Middle of Process Tee Hitam L</span>
<span class="t" style="left:959.22px;top:449px;font-size:14.3px;line-height:16px;color:#383b45;">1</span>
<span class="t" style="left:1063.3px;top:449px;font-size:14.3px;line-height:16px;color:#383b45;letter-spacing:0.15px;">170.000</span>
<span class="t" style="left:1195.62px;top:449px;font-size:14.3px;line-height:16px;color:#d9363e;">0</span>
<span class="t" style="left:1328.4px;top:449px;font-size:14.3px;line-height:16px;color:#383b45;letter-spacing:0.15px;">170.000</span>
<div class="b" style="left:331px;top:480px;width:1061px;height:32.6px;background:#dde3ec;border-radius:10px;"></div>
<span class="t" style="left:342px;top:488px;font-size:13.9px;line-height:16px;color:#30333c;font-weight:700;transform:scaleX(0.9821);">Subtotal</span>
<span class="t" style="left:959.33px;top:488px;font-size:13.9px;line-height:16px;color:#30333c;font-weight:700;">3</span>
<span class="t" style="left:1195.73px;top:488px;font-size:13.9px;line-height:16px;color:#d9363e;font-weight:700;">0</span>
<span class="t" style="left:1325.6px;top:488px;font-size:14px;line-height:16px;color:#30333c;font-weight:700;letter-spacing:0.8px;">510.000</span>
<span class="t" style="left:342px;top:526px;font-size:14.3px;line-height:16px;color:#383b45;transform:scaleX(0.9564);">Servis</span>
<span class="t" style="left:1336px;top:526px;font-size:14.3px;line-height:16px;color:#383b45;letter-spacing:0.25px;">25.500</span>
<span class="t" style="left:342px;top:554px;font-size:14.3px;line-height:16px;color:#383b45;transform:scaleX(0.9113);-webkit-text-stroke:0.16px #383b45;">Pajak</span>
<span class="t" style="left:1337.4px;top:554px;font-size:14.3px;line-height:16px;color:#383b45;letter-spacing:-0.03px;">51.000</span>
<span class="t" style="left:342px;top:581px;font-size:14.3px;line-height:16px;color:#383b45;letter-spacing:0.06px;">Ongkir</span>
<span class="t" style="left:1342.6px;top:581px;font-size:14.3px;line-height:16px;color:#383b45;letter-spacing:0.65px;">8.000</span>
<div class="b" style="left:331px;top:612px;width:1061px;height:32.6px;background:#dde3ec;border-radius:10px;"></div>
<span class="t" style="left:342px;top:620px;font-size:14px;line-height:16px;color:#30333c;font-weight:700;transform:scaleX(0.9431);">TOTAL</span>
<span class="t" style="left:1325.6px;top:620px;font-size:14px;line-height:16px;color:#30333c;font-weight:700;letter-spacing:0.8px;">594.500</span>
<span class="t" style="left:342px;top:658px;font-size:14.3px;line-height:16px;color:#383b45;transform:scaleX(0.9476);-webkit-text-stroke:0.16px #383b45;">Pembayaran:</span>
<span class="t" style="left:425.8px;top:658px;font-size:13.9px;line-height:16px;color:#30333c;font-weight:700;transform:scaleX(0.9708);">Transfer</span>
<span class="t" style="left:1328px;top:658px;font-size:14.3px;line-height:16px;color:#383b45;letter-spacing:0.22px;">594.500</span>
<span class="t" style="left:1444px;top:346px;font-size:13.9px;line-height:16px;color:#30333c;font-weight:700;transform:scaleX(0.9723);">Pengiriman</span>
<div class="b" style="left:1730.4px;top:342.2px;width:139.6px;height:25.6px;border-radius:13px;border:2px solid #111;"></div>
<svg class="b" style="left:1742.6px;top:346px;" width="18" height="18" viewBox="0 0 18 18"><path d="M12.6 1.9 A8 8 0 1 0 15.8 4.8" fill="none" stroke="#1c1c1c" stroke-width="1.7"/><path d="M6.4 6.4 L11.6 11.6 M11.6 6.4 L6.4 11.6" stroke="#ee4f6c" stroke-width="1.3"/></svg>
<span class="t" style="left:1766.6px;top:347px;font-size:13.1px;line-height:15px;color:#2aa3d6;font-weight:700;letter-spacing:0.04px;">Batal Pesanan</span>
<div class="b" style="left:1433px;top:373.4px;width:448px;height:1px;background:#6a6a6a;"></div>
<span class="t" style="left:1444px;top:387px;font-size:14.3px;line-height:16px;color:#383b45;transform:scaleX(0.9436);-webkit-text-stroke:0.16px #383b45;">Total Berat</span>
<span class="t" style="left:1555.4px;top:387px;font-size:14px;line-height:16px;color:#383b45;font-weight:700;">:</span>
<span class="t" style="left:1563px;top:387px;font-size:13.9px;line-height:16px;color:#30333c;font-weight:700;letter-spacing:-0.04px;">0 Kg</span>
<span class="t" style="left:1444px;top:409px;font-size:14.3px;line-height:16px;color:#383b45;transform:scaleX(0.9638);">Dikirim Melalui</span>
<span class="t" style="left:1555.4px;top:409px;font-size:14px;line-height:16px;color:#383b45;font-weight:700;">:</span>
<span class="t" style="left:1563px;top:409px;font-size:13.9px;line-height:16px;color:#30333c;font-weight:700;transform:scaleX(0.9786);">Jalur Nugraha Ekakurir (JNE)</span>
<span class="t" style="left:1444px;top:431px;font-size:14.3px;line-height:16px;color:#383b45;transform:scaleX(0.9572);">Jenis Pengiriman</span>
<span class="t" style="left:1555.4px;top:431px;font-size:14px;line-height:16px;color:#383b45;font-weight:700;">:</span>
<span class="t" style="left:1563px;top:431px;font-size:13.9px;line-height:16px;color:#30333c;font-weight:700;letter-spacing:-0.01px;">JNE City Courier (CTC) = 8.000 (ETD : 1-2 days)</span>
<span class="t" style="left:1444px;top:453px;font-size:14.3px;line-height:16px;color:#383b45;transform:scaleX(0.8863);-webkit-text-stroke:0.16px #383b45;">No. Resi</span>
<span class="t" style="left:1555.4px;top:453px;font-size:14px;line-height:16px;color:#383b45;font-weight:700;">:</span>
<span class="t" style="left:1563px;top:453px;font-size:13.9px;line-height:16px;color:#30333c;font-weight:700;letter-spacing:0.8px;">10008036648690</span>
<span class="t" style="left:1444px;top:475px;font-size:14.3px;line-height:16px;color:#383b45;transform:scaleX(0.9446);-webkit-text-stroke:0.16px #383b45;">Nama Penerima</span>
<span class="t" style="left:1555.4px;top:475px;font-size:14px;line-height:16px;color:#383b45;font-weight:700;">:</span>
<span class="t" style="left:1563px;top:475px;font-size:13.9px;line-height:16px;color:#30333c;font-weight:700;letter-spacing:0.38px;">Gerry</span>
<span class="t" style="left:1444px;top:497px;font-size:14.3px;line-height:16px;color:#383b45;transform:scaleX(0.9242);-webkit-text-stroke:0.16px #383b45;">No. Telepon</span>
<span class="t" style="left:1555.4px;top:497px;font-size:14px;line-height:16px;color:#383b45;font-weight:700;">:</span>
<span class="t" style="left:1563px;top:497px;font-size:13.9px;line-height:16px;color:#30333c;font-weight:700;letter-spacing:0.35px;">085974175544</span>
<span class="t" style="left:1444px;top:519px;font-size:14.3px;line-height:16px;color:#383b45;transform:scaleX(0.9796);">Alamat</span>
<span class="t" style="left:1555.4px;top:519px;font-size:14px;line-height:16px;color:#383b45;font-weight:700;">:</span>
<span class="t" style="left:1563px;top:519px;font-size:13.9px;line-height:16px;color:#30333c;font-weight:700;letter-spacing:0.18px;">123506789</span>
<span class="t" style="left:1444px;top:541px;font-size:14.3px;line-height:16px;color:#383b45;transform:scaleX(0.9562);">Propinsi</span>
<span class="t" style="left:1555.4px;top:541px;font-size:14px;line-height:16px;color:#383b45;font-weight:700;">:</span>
<span class="t" style="left:1563px;top:541px;font-size:13.9px;line-height:16px;color:#30333c;font-weight:700;transform:scaleX(0.9890);">Jawa Barat</span>
<span class="t" style="left:1444px;top:563px;font-size:14.3px;line-height:16px;color:#383b45;transform:scaleX(0.9808);">Kota / Kabupaten</span>
<span class="t" style="left:1555.4px;top:563px;font-size:14px;line-height:16px;color:#383b45;font-weight:700;">:</span>
<span class="t" style="left:1563px;top:563px;font-size:13.9px;line-height:16px;color:#30333c;font-weight:700;transform:scaleX(0.9756);">Kabupaten Bandung</span>
<span class="t" style="left:1444px;top:585px;font-size:14.3px;line-height:16px;color:#383b45;transform:scaleX(0.9677);">Kecamatan</span>
<span class="t" style="left:1555.4px;top:585px;font-size:14px;line-height:16px;color:#383b45;font-weight:700;">:</span>
<span class="t" style="left:1563px;top:585px;font-size:13.9px;line-height:16px;color:#30333c;font-weight:700;transform:scaleX(0.9830);">Dayeuhkolot</span>
<span class="t" style="left:1444px;top:607px;font-size:14.3px;line-height:16px;color:#383b45;transform:scaleX(0.9256);-webkit-text-stroke:0.16px #383b45;">Kode Pos</span>
<span class="t" style="left:1555.4px;top:607px;font-size:14px;line-height:16px;color:#383b45;font-weight:700;">:</span>
<span class="t" style="left:1563px;top:607px;font-size:13.9px;line-height:16px;color:#30333c;font-weight:700;">0</span>
<span class="t" style="left:1444px;top:645px;font-size:14.3px;line-height:16px;color:#383b45;transform:scaleX(0.9183);-webkit-text-stroke:0.16px #383b45;">Status Transaksi</span>
<span class="t" style="left:1556.6px;top:645px;font-size:14.3px;line-height:16px;color:#383b45;">:</span>
<div class="b" style="left:1563px;top:638.2px;width:305.4px;height:30.2px;background:#e8ecf4;border-radius:10px;"></div>
<span class="t" style="left:1567.6px;top:647px;font-size:12.4px;line-height:14px;color:#444;letter-spacing:0.11px;">Pesanan dalam pengiriman</span>
<svg class="b" style="left:1853px;top:650.6px;" width="9.6" height="7.2" viewBox="0 0 9.6 7.2"><path d="M0.8 1 L4.8 5.2 L8.8 1" fill="none" stroke="#333" stroke-width="1.9"/></svg>
<div class="b" style="left:319.3px;top:714.5px;width:1573.7px;height:77.3px;background:#fff;border-radius:9px;box-shadow:0 2.5px 4px rgba(40,50,60,0.14),0 0 1.2px rgba(40,50,60,0.22);"></div>
<span class="t" style="left:330px;top:744px;font-size:14.3px;line-height:16px;color:#383b45;transform:scaleX(0.9492);-webkit-text-stroke:0.16px #383b45;">27 Nov 2023 - 09:12</span>
<span class="t" style="left:528.8px;top:732px;font-size:14.3px;line-height:16px;color:#383b45;transform:scaleX(0.8655);-webkit-text-stroke:0.16px #383b45;">Lina</span>
<span class="t" style="left:528.8px;top:756px;font-size:11px;line-height:12px;color:#222;transform:scaleX(0.9807);">0852156687945</span>
<span class="t" style="left:781px;top:733px;font-size:14px;line-height:16px;color:#30333c;font-weight:700;letter-spacing:0.27px;">IV.005.2311.00086</span>
<span class="t" style="left:781px;top:755px;font-size:14.3px;line-height:16px;color:#383b45;transform:scaleX(0.9733);">AO.005.2311.00083</span>
<span class="t" style="left:1045.1px;top:744px;font-size:14.3px;line-height:16px;color:#383b45;transform:scaleX(0.9866);">145.600</span>
<svg class="b" style="left:1158.8px;top:743px;" width="18" height="19" viewBox="0 0 18 19"><path d="M5.6 4.6 a3.4 3.4 0 0 1 6.8 0" fill="none" stroke="#2e8b3d" stroke-width="1.3"/><path d="M1.4 4.6 h15.2 v10.6 a2.6 2.6 0 0 1 -2.6 2.6 h-10 a2.6 2.6 0 0 1 -2.6 -2.6z" fill="#4cb649"/><circle cx="5.9" cy="10" r="2.9" fill="#fff"/><circle cx="12.1" cy="10" r="2.9" fill="#fff"/><circle cx="6.5" cy="10.3" r="1.5" fill="#222"/><circle cx="11.5" cy="10.3" r="1.5" fill="#222"/><path d="M8 13 L9 14.8 L10 13Z" fill="#f7a71b"/></svg>
<span class="t" style="left:1187.2px;top:743px;font-size:14.3px;line-height:16px;color:#222;transform:scaleX(0.8835);-webkit-text-stroke:0.16px #222;">Tokopedia</span>
<span class="t" style="left:1307.5px;top:733px;font-size:13.9px;line-height:16px;color:#30333c;font-weight:700;transform:scaleX(0.9834);">GoSend</span>
<span class="t" style="left:1307.5px;top:755px;font-size:14.3px;line-height:16px;color:#383b45;transform:scaleX(0.9131);-webkit-text-stroke:0.16px #383b45;">37.6Km</span>
<span class="t" style="left:1506.6px;top:744px;font-size:14px;line-height:16px;color:#222;transform:scaleX(0.9687);">10008036648690</span>
<div class="b" style="left:1670.3px;top:738.2px;width:211.7px;height:30.5px;background:#fff;border-radius:10px;border:2px solid #111;"></div>
<svg class="b" style="left:1702.4px;top:743.85px;" width="20" height="20" viewBox="0 0 20 20"><path d="M13.6 2.2 A8.3 8.3 0 1 0 16.6 5.2" fill="none" stroke="#1c1c1c" stroke-width="1.6"/><path d="M5.9 10.6 L8.6 13 L13.9 7.4" fill="none" stroke="#74c878" stroke-width="1.3"/></svg>
<span class="t" style="left:1726.8px;top:745px;font-size:13.1px;line-height:15px;color:#2aa3d6;font-weight:700;letter-spacing:0.11px;">Pengiriman Selesai</span>
<div class="b" style="left:319.3px;top:803.75px;width:1573.7px;height:77px;background:#fff;border-radius:9px;box-shadow:0 2.5px 4px rgba(40,50,60,0.14),0 0 1.2px rgba(40,50,60,0.22);"></div>
<span class="t" style="left:330px;top:833px;font-size:14.3px;line-height:16px;color:#383b45;transform:scaleX(0.9183);-webkit-text-stroke:0.16px #383b45;">11 Nov 2023 - 08:13</span>
<span class="t" style="left:528.8px;top:821px;font-size:14.3px;line-height:16px;color:#383b45;transform:scaleX(0.9228);-webkit-text-stroke:0.16px #383b45;">Mario</span>
<span class="t" style="left:528.8px;top:845px;font-size:11px;line-height:12px;color:#222;transform:scaleX(0.9807);">08123456798</span>
<span class="t" style="left:781px;top:822px;font-size:14px;line-height:16px;color:#30333c;font-weight:700;letter-spacing:0.14px;">IV.005.2311.00019</span>
<span class="t" style="left:781px;top:844px;font-size:14.3px;line-height:16px;color:#383b45;transform:scaleX(0.9733);">AO.005.2311.00024</span>
<span class="t" style="left:1045.1px;top:833px;font-size:14.3px;line-height:16px;color:#383b45;transform:scaleX(0.9866);">243.850</span>
<svg class="b" style="left:1158.8px;top:831.8px;" width="18" height="19" viewBox="0 0 18 19"><path d="M5.8 5 a3.2 3.6 0 0 1 6.4 0" fill="none" stroke="#ee4d2d" stroke-width="1.2"/><path d="M1.6 5 h14.8 l-0.8 11.4 a1.6 1.6 0 0 1 -1.6 1.4 h-10 a1.6 1.6 0 0 1 -1.6 -1.4z" fill="#ee4d2d"/><text x="9" y="16" font-size="11.5" fill="#fff" text-anchor="middle" font-family="Liberation Sans">S</text></svg>
<span class="t" style="left:1187.2px;top:833px;font-size:14.3px;line-height:16px;color:#222;transform:scaleX(0.8924);-webkit-text-stroke:0.16px #222;">Shopee</span>
<span class="t" style="left:1307.5px;top:822px;font-size:13.9px;line-height:16px;color:#30333c;font-weight:700;transform:scaleX(0.9615);">JNE</span>
<span class="t" style="left:1307.5px;top:844px;font-size:14.3px;line-height:16px;color:#383b45;transform:scaleX(0.9139);-webkit-text-stroke:0.16px #383b45;">OKE</span>
<span class="t" style="left:1506.6px;top:833px;font-size:14px;line-height:16px;color:#222;transform:scaleX(0.9041);-webkit-text-stroke:0.16px #222;">100012345678912</span>
<div class="b" style="left:1670.3px;top:827.4px;width:211.7px;height:30.2px;background:#fff;border-radius:10px;border:2px solid #111;"></div>
<svg class="b" style="left:1702.4px;top:832.9px;" width="20" height="20" viewBox="0 0 20 20"><path d="M13.6 2.2 A8.3 8.3 0 1 0 16.6 5.2" fill="none" stroke="#1c1c1c" stroke-width="1.6"/><path d="M5.9 10.6 L8.6 13 L13.9 7.4" fill="none" stroke="#74c878" stroke-width="1.3"/></svg>
<span class="t" style="left:1726.8px;top:834px;font-size:13.1px;line-height:15px;color:#2aa3d6;font-weight:700;letter-spacing:0.11px;">Pengiriman Selesai</span>
<div class="b" style="left:319.3px;top:892.5px;width:1573.7px;height:77.5px;background:#fff;border-radius:9px;box-shadow:0 2.5px 4px rgba(40,50,60,0.14),0 0 1.2px rgba(40,50,60,0.22);"></div>
<span class="t" style="left:330px;top:922px;font-size:14.3px;line-height:16px;color:#383b45;transform:scaleX(0.9337);-webkit-text-stroke:0.16px #383b45;">10 Nov 2023 - 14:01</span>
<span class="t" style="left:528.8px;top:912px;font-size:14.3px;line-height:16px;color:#383b45;transform:scaleX(0.8662);-webkit-text-stroke:0.16px #383b45;">Raden</span>
<span class="t" style="left:528.8px;top:936px;font-size:11px;line-height:12px;color:#222;">088998765432</span>
<span class="t" style="left:781px;top:911px;font-size:14px;line-height:16px;color:#30333c;font-weight:700;letter-spacing:0.14px;">IV.005.2311.00015</span>
<span class="t" style="left:781px;top:933px;font-size:14.3px;line-height:16px;color:#383b45;transform:scaleX(0.9577);">AO.005.2311.00019</span>
<span class="t" style="left:1045.1px;top:922px;font-size:14.3px;line-height:16px;color:#383b45;transform:scaleX(0.9866);">457.700</span>
<svg class="b" style="left:1158.8px;top:921.8px;" width="18" height="19" viewBox="0 0 18 19"><path d="M5.6 4.6 a3.4 3.4 0 0 1 6.8 0" fill="none" stroke="#2e8b3d" stroke-width="1.3"/><path d="M1.4 4.6 h15.2 v10.6 a2.6 2.6 0 0 1 -2.6 2.6 h-10 a2.6 2.6 0 0 1 -2.6 -2.6z" fill="#4cb649"/><circle cx="5.9" cy="10" r="2.9" fill="#fff"/><circle cx="12.1" cy="10" r="2.9" fill="#fff"/><circle cx="6.5" cy="10.3" r="1.5" fill="#222"/><circle cx="11.5" cy="10.3" r="1.5" fill="#222"/><path d="M8 13 L9 14.8 L10 13Z" fill="#f7a71b"/></svg>
<span class="t" style="left:1187.2px;top:922px;font-size:14.3px;line-height:16px;color:#222;transform:scaleX(0.8835);-webkit-text-stroke:0.16px #222;">Tokopedia</span>
<span class="t" style="left:1307.3px;top:913px;font-size:12px;line-height:14px;color:#111;font-weight:700;letter-spacing:-0.04px;">J&amp;T</span>
<span class="t" style="left:1307.3px;top:933px;font-size:14px;line-height:16px;color:#111;transform:scaleX(0.9275);-webkit-text-stroke:0.16px #111;">Next Day</span>
<span class="t" style="left:1506.6px;top:922px;font-size:14px;line-height:16px;color:#222;transform:scaleX(0.9302);-webkit-text-stroke:0.16px #222;">10005841234567</span>
<div class="b" style="left:1670.3px;top:916.2px;width:211.7px;height:29.6px;background:#fff;border-radius:10px;border:2px solid #111;"></div>
<svg class="b" style="left:1702.4px;top:921.4px;" width="20" height="20" viewBox="0 0 20 20"><path d="M13.6 2.2 A8.3 8.3 0 1 0 16.6 5.2" fill="none" stroke="#1c1c1c" stroke-width="1.6"/><path d="M5.9 10.6 L8.6 13 L13.9 7.4" fill="none" stroke="#74c878" stroke-width="1.3"/></svg>
<span class="t" style="left:1726.8px;top:923px;font-size:13.1px;line-height:15px;color:#2aa3d6;font-weight:700;letter-spacing:0.11px;">Pengiriman Selesai</span>
<div class="b" style="left:319.3px;top:981.75px;width:1573.7px;height:77.2px;background:#fff;border-radius:9px;box-shadow:0 2.5px 4px rgba(40,50,60,0.14),0 0 1.2px rgba(40,50,60,0.22);"></div>
<span class="t" style="left:330px;top:1011px;font-size:14.3px;line-height:16px;color:#383b45;transform:scaleX(0.9646);">10 Nov 2023 - 09:33</span>
<span class="t" style="left:528.8px;top:999px;font-size:14.3px;line-height:16px;color:#383b45;letter-spacing:-0.05px;">Silvy</span>
<span class="t" style="left:528.8px;top:1023px;font-size:11px;line-height:12px;color:#222;letter-spacing:0.14px;">085547548999</span>
<span class="t" style="left:781px;top:1000px;font-size:14px;line-height:16px;color:#30333c;font-weight:700;letter-spacing:0.35px;">IV.005.2311.00060</span>
<span class="t" style="left:781px;top:1022px;font-size:14.3px;line-height:16px;color:#383b45;transform:scaleX(0.9874);">AO.005.2311.00008</span>
<span class="t" style="left:1048.1px;top:1011px;font-size:14.3px;line-height:16px;color:#383b45;letter-spacing:0.25px;">30.450</span>
<svg class="b" style="left:1158.8px;top:1011px;" width="19" height="19" viewBox="0 0 19 19"><circle cx="9.5" cy="9.5" r="8.8" fill="#ee2737"/><path d="M6.6 4.4 c-1.6 0 -2.4 1.6 -2.4 3.4 s1 2.8 1.8 3 v4.2 h1.2 v-4.2 c0.8 -0.2 1.8 -1.2 1.8 -3 s-0.8 -3.4 -2.4 -3.4z" fill="#fff"/><path d="M12.4 4.4 c-1.6 0 -2.4 1.6 -2.4 3.4 s1 2.8 1.8 3 v4.2 h1.2 v-4.2 c0.8 -0.2 1.8 -1.2 1.8 -3 s-0.8 -3.4 -2.4 -3.4z" fill="#fff"/></svg>
<span class="t" style="left:1187.2px;top:1011px;font-size:14.3px;line-height:16px;color:#222;transform:scaleX(0.8986);-webkit-text-stroke:0.16px #222;">Go Food</span>
<span class="t" style="left:1307.3px;top:1001px;font-size:12px;line-height:14px;color:#111;font-weight:700;letter-spacing:0.48px;">GoFood</span>
<span class="t" style="left:1307.3px;top:1020px;font-size:14px;line-height:16px;color:#111;transform:scaleX(0.9240);-webkit-text-stroke:0.16px #111;">3Km</span>
<div class="b" style="left:1670.3px;top:1005.7px;width:211.7px;height:28.6px;background:#fff;border-radius:10px;border:2px solid #111;"></div>
<svg class="b" style="left:1702.4px;top:1010.4px;" width="20" height="20" viewBox="0 0 20 20"><path d="M13.6 2.2 A8.3 8.3 0 1 0 16.6 5.2" fill="none" stroke="#1c1c1c" stroke-width="1.6"/><path d="M5.9 10.6 L8.6 13 L13.9 7.4" fill="none" stroke="#74c878" stroke-width="1.3"/></svg>
<span class="t" style="left:1726.8px;top:1012px;font-size:13.1px;line-height:15px;color:#2aa3d6;font-weight:700;letter-spacing:0.11px;">Pengiriman Selesai</span>
<div class="b" style="left:319.3px;top:1070.6px;width:1573.7px;height:40px;background:#fff;border-radius:9px;box-shadow:0 2.5px 4px rgba(40,50,60,0.14),0 0 1.2px rgba(40,50,60,0.22);"></div>
</div></body></html>
